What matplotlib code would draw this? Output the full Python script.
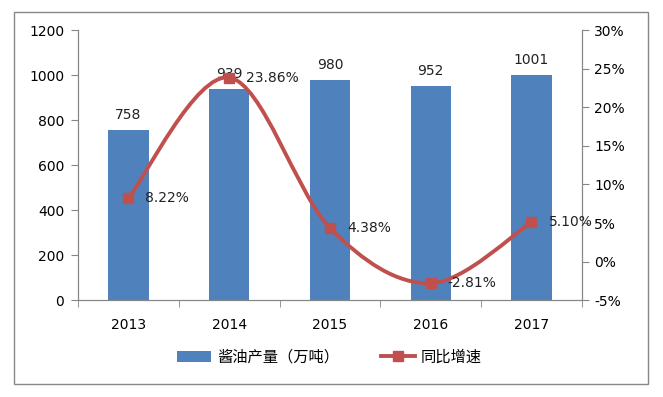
import numpy as np
import matplotlib
matplotlib.use('Agg')
import matplotlib.pyplot as plt
from matplotlib.path import Path
from matplotlib.patches import PathPatch, Rectangle
from matplotlib.lines import Line2D
from matplotlib.patches import Patch

plt.rcParams['font.family'] = ['DejaVu Sans', 'Noto Sans CJK SC']

years = ['2013', '2014', '2015', '2016', '2017']
output = [758, 939, 980, 952, 1001]
growth = [8.22, 23.86, 4.38, -2.81, 5.10]
growth_labels = ['8.22%', '23.86%', '4.38%', '-2.81%', '5.10%']

bar_color = '#4F81BD'
line_color = '#C0504D'
grid_color = '#868686'

fig = plt.figure(figsize=(6.63, 3.97), dpi=100)
fig.patches.append(Rectangle((0.021, 0.033), 0.956, 0.937, transform=fig.transFigure,
                             fill=False, edgecolor='#888888', linewidth=1.0))

ax = fig.add_axes([0.1176, 0.244, 0.760, 0.680])
x = np.arange(len(years))
ax.bar(x, output, width=0.4, color=bar_color, zorder=2)
for xi, v in zip(x, output):
    ax.text(xi, v + 35, str(v), ha='center', va='bottom', fontsize=10, color='#222222')

ax.set_xlim(-0.5, len(years) - 0.5)
ax.set_ylim(0, 1200)
ax.set_yticks(range(0, 1201, 200))
ax.set_xticks(x)
ax.set_xticklabels(years)
ax.set_xticks(np.arange(-0.5, len(years), 1.0), minor=True)
ax.tick_params(axis='x', which='major', length=0, pad=13, labelsize=10)
ax.tick_params(axis='x', which='minor', length=5, color=grid_color, direction='out')
ax.tick_params(axis='y', length=5, color=grid_color, labelsize=10, pad=5)
ax.spines['top'].set_visible(False)
for s in ['left', 'bottom', 'right']:
    ax.spines[s].set_color(grid_color)

ax2 = ax.twinx()
ax2.set_ylim(-5, 30)
ax2.set_yticks(range(-5, 31, 5))
ax2.set_yticklabels([f'{v}%' for v in range(-5, 31, 5)])
ax2.tick_params(axis='y', length=5, color=grid_color, labelsize=10, pad=4)
ax2.spines['top'].set_visible(False)
for s in ['left', 'bottom', 'right']:
    ax2.spines[s].set_color(grid_color)

# smooth curve (Catmull-Rom style Bezier through the data points)
pts = np.column_stack([x, growth]).astype(float)
verts = [pts[0]]
codes = [Path.MOVETO]
n = len(pts)
for i in range(n - 1):
    p0 = pts[i - 1] if i > 0 else pts[i]
    p1 = pts[i]
    p2 = pts[i + 1]
    p3 = pts[i + 2] if i + 2 < n else pts[i + 1]
    c1 = p1 + (p2 - p0) / 6.0
    c2 = p2 - (p3 - p1) / 6.0
    verts += [c1, c2, p2]
    codes += [Path.CURVE4] * 3
ax2.add_patch(PathPatch(Path(verts, codes), fill=False, edgecolor=line_color,
                        linewidth=2.8, zorder=3))
ax2.plot(x, growth, linestyle='', marker='s', markersize=7, color=line_color, zorder=4)
for xi, v, lab in zip(x, growth, growth_labels):
    ax2.text(xi + 0.17, v, lab, ha='left', va='center', fontsize=10, color='#222222', zorder=5)

handles = [Patch(facecolor=bar_color), Line2D([0], [0], color=line_color, linewidth=2.8,
                                              marker='s', markersize=7)]
fig.legend(handles, ['酱油产量（万吨）', '同比增速'], loc='center', bbox_to_anchor=(0.497, 0.10),
           ncol=2, frameon=False, prop={'family': ['Noto Sans CJK SC', 'DejaVu Sans'], 'size': 11},
           handlelength=2.2, columnspacing=2.8, handletextpad=0.4)

fig.savefig('out.png', dpi=100)
